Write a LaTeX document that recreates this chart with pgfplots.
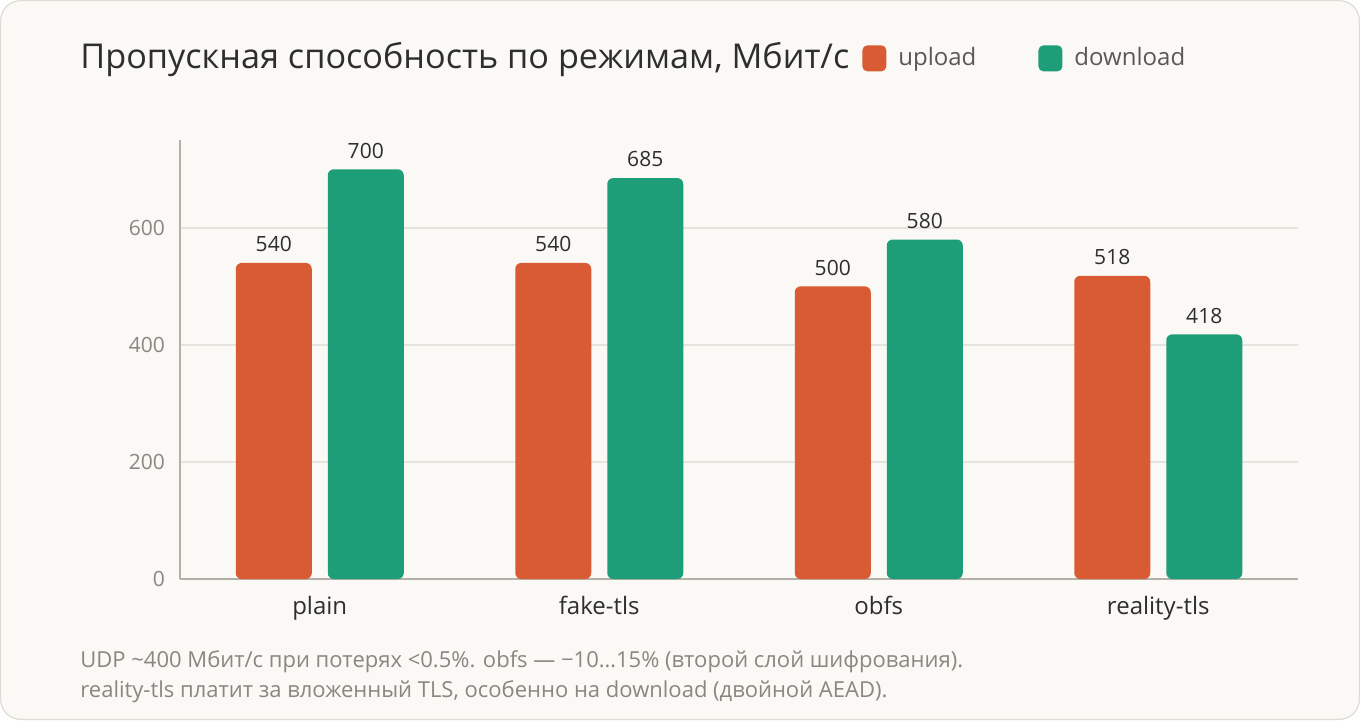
\documentclass[border=0pt]{standalone}
\usepackage{fontspec}
\setmainfont{Open Sans}
\usepackage{pgfplots}
\pgfplotsset{compat=1.18}
\usepackage{pgfplotstable}

\definecolor{bgcol}{HTML}{FAF9F5}
\definecolor{framecol}{HTML}{DEDBD5}
\definecolor{upcol}{HTML}{D95B33}
\definecolor{downcol}{HTML}{1E9E78}
\definecolor{axiscol}{HTML}{B3B0A8}
\definecolor{gridcol}{HTML}{E6E3DD}
\definecolor{tickcol}{HTML}{8A8782}
\definecolor{textcol}{HTML}{2E2E2E}
\definecolor{legcol}{HTML}{5A5855}
\definecolor{notecol}{HTML}{8A8680}

% throughput per mode, Mbit/s
\pgfplotstableread{
x mode upload download
0 plain 540 700
1 fake-tls 540 685
2 obfs 500 580
3 reality-tls 518 418
}\speeds

\begin{document}
\begin{tikzpicture}
% card background
\path[use as bounding box] (0,0) rectangle (680pt,360pt);
\fill[bgcol, draw=framecol, line width=0.6pt, rounded corners=10pt] (0.3pt,0.3pt) rectangle (679.7pt,359.7pt);

% title
\node[anchor=base west, font=\fontsize{17.1}{20}\selectfont, text=textcol, inner sep=0pt] at (40pt,326pt) {Пропускная способность по режимам, Мбит/с};

\begin{axis}[
  at={(90pt,70.5pt)}, anchor=south west,
  scale only axis, width=559pt, height=219.5pt,
  xmin=-0.5, xmax=3.5, ymin=0, ymax=750,
  ybar=8pt, bar width=38pt,
  axis lines*=left,
  axis line style={axiscol, line width=0.8pt},
  every outer x axis line/.append style={-}, every outer y axis line/.append style={-},
  xtick=data, xticklabels={plain,fake-tls,obfs,reality-tls},
  ytick={0,200,400,600},
  major tick length=0pt,
  ymajorgrids, grid style={gridcol, line width=0.8pt},
  /pgf/number format/assume math mode=true,
  yticklabel style={font=\fontsize{10.5}{12}\selectfont, text=tickcol, xshift=-4pt},
  xticklabel style={font=\fontsize{12}{14}\selectfont, text=textcol, yshift=-5pt},
  nodes near coords,
  every node near coord/.append style={font=\fontsize{10.5}{12}\selectfont, text=textcol, yshift=2pt},
  legend style={at={(0.610,1.186)}, anchor=west, draw=none, fill=none,
    legend columns=2, font=\fontsize{12}{14}\selectfont, text=legcol,
    inner sep=0pt,
    /tikz/every odd column/.append style={column sep=4pt},
    /tikz/every even column/.append style={column sep=29pt}},
  legend image code/.code={\fill[rounded corners=2.5pt, #1] (0pt,-6.5pt) rectangle (12pt,6.5pt);},
  legend cell align=left,
  clip=false,
]
\addplot[fill=upcol, draw=none, rounded corners=3pt] table[x=x, y=upload] {\speeds};
\addplot[fill=downcol, draw=none, rounded corners=3pt] table[x=x, y=download] {\speeds};
\legend{upload, download}
\end{axis}

% footnote
\node[anchor=base west, font=\fontsize{11}{13}\selectfont, text=notecol, inner sep=0pt] at (40pt,26.5pt) {UDP \textasciitilde400 Мбит/с при потерях <0.5\%. obfs — −10…15\% (второй слой шифрования).};
\node[anchor=base west, font=\fontsize{11}{13}\selectfont, text=notecol, inner sep=0pt] at (40pt,11.5pt) {reality-tls платит за вложенный TLS, особенно на download (двойной AEAD).};
\end{tikzpicture}
\end{document}
